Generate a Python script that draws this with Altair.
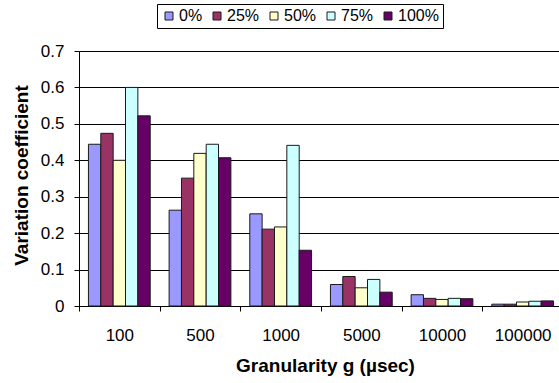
import altair as alt
import pandas as pd

categories = ["100", "500", "1000", "5000", "10000", "100000"]
series = ["0%", "25%", "50%", "75%", "100%"]
v0 = [0.444, 0.263, 0.253, 0.059, 0.031, 0.005]
v25 = [0.474, 0.351, 0.211, 0.081, 0.021, 0.005]
v50 = [0.400, 0.419, 0.217, 0.050, 0.018, 0.011]
v75 = [0.600, 0.444, 0.441, 0.073, 0.021, 0.013]
v100 = [0.522, 0.407, 0.153, 0.038, 0.020, 0.014]
colors = ["#9999FF", "#993366", "#FFFFCC", "#CCFFFF", "#660066"]
y_ticks = [0, 0.1, 0.2, 0.3, 0.4, 0.5, 0.6, 0.7]

rows = []
for s, vals in zip(series, [v0, v25, v50, v75, v100]):
    for c, v in zip(categories, vals):
        rows.append({"g": c, "load": s, "value": v})
df = pd.DataFrame(rows)

FONT = "Liberation Sans"

chart = alt.Chart(df).mark_bar(stroke="#1a1a1a", strokeWidth=1).encode(
    x=alt.X("g:N", sort=categories,
            scale=alt.Scale(paddingInner=0, paddingOuter=0, range=[0, 484]),
            axis=alt.Axis(title="Granularity g (µsec)", labelAngle=0,
                          tickBand="extent", tickSize=5, tickColor="black",
                          domainColor="black", labelFontSize=17, labelColor="black",
                          labelBaseline="alphabetic", labelPadding=29,
                          titleFontSize=19, titleFontWeight="bold", titleColor="black",
                          titleBaseline="alphabetic", titleY=65, titleX=246,
                          titleAlign="center", grid=False)),
    xOffset=alt.XOffset("load:N", sort=series,
                        scale=alt.Scale(paddingInner=0, paddingOuter=0.765)),
    y=alt.Y("value:Q", scale=alt.Scale(domain=[0, 0.7], nice=False),
            axis=alt.Axis(title="Variation coefficient", values=y_ticks, format=".1~f",
                          grid=True, gridColor="black", gridWidth=1,
                          tickSize=5, tickColor="black", domainColor="black",
                          labelFontSize=17, labelColor="black", labelPadding=10,
                          titleFontSize=19, titleFontWeight="bold", titleColor="black",
                          titleBaseline="alphabetic", titleX=-52, titleY=124,
                          titleAlign="center", titleAngle=270)),
    color=alt.Color("load:N", sort=series,
                    scale=alt.Scale(domain=series, range=colors),
                    legend=alt.Legend(orient="none", legendX=78, legendY=-47,
                                      direction="horizontal", title=None,
                                      symbolType="square", symbolSize=64,
                                      symbolStrokeColor="#1a1a1a", symbolStrokeWidth=1,
                                      symbolOpacity=1,
                                      labelFontSize=16, labelColor="black",
                                      labelOffset=2, columnPadding=6,
                                      strokeColor="black", fillColor="white",
                                      padding=4)),
).properties(
    width=480, height=255,
    autosize=alt.AutoSizeParams(type="none"),
    padding={"left": 79, "top": 51, "right": 0, "bottom": 77},
).configure(font=FONT).configure_view(stroke=None).configure_axis(
    labelFont=FONT, titleFont=FONT
).configure_legend(labelFont=FONT)

chart.save("out.html", embed_options={"renderer": "svg", "actions": False})
